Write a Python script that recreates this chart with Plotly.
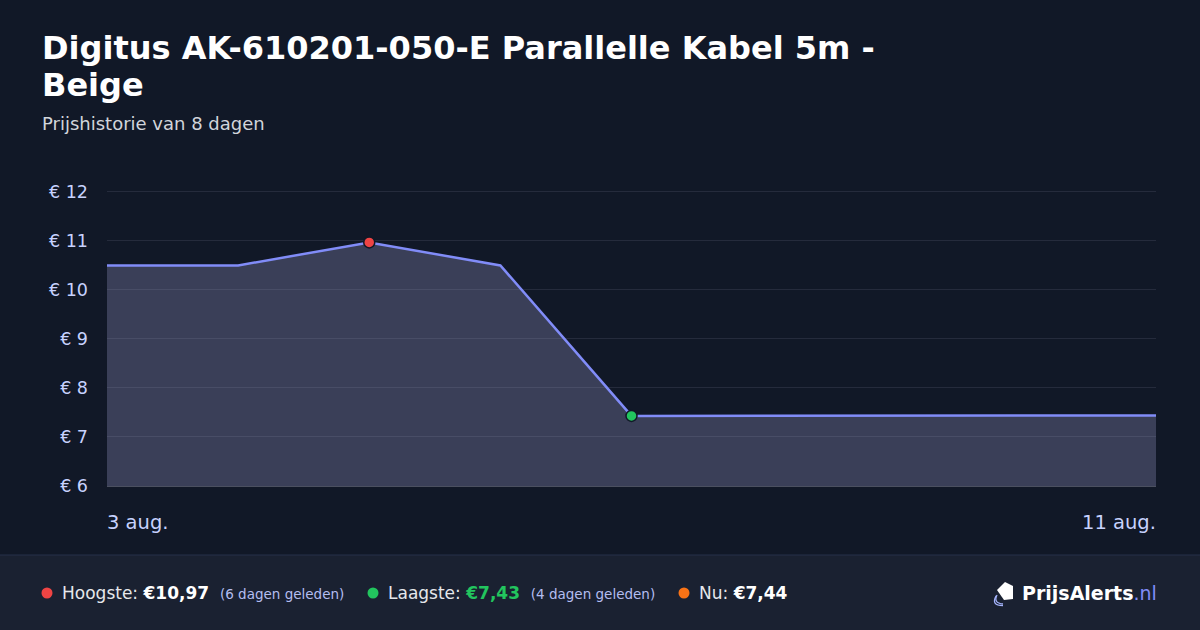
import plotly.graph_objects as go

# prijsdata
dates = ["2025-08-03", "2025-08-04", "2025-08-05", "2025-08-06", "2025-08-07",
         "2025-08-08", "2025-08-09", "2025-08-10", "2025-08-11"]
prices = [10.50, 10.50, 10.97, 10.50, 7.43, 7.43, 7.44, 7.44, 7.44]
y_ticks = [6, 7, 8, 9, 10, 11, 12]
y_labels = ["€ " + str(v) for v in y_ticks]
x_labels = ["3 aug.", "11 aug."]

title_lines = ["Digitus AK-610201-050-E Parallelle Kabel 5m -", "Beige"]
subtitle = "Prijshistorie van 8 dagen"

hi = prices.index(max(prices))
lo = prices.index(min(prices))

BG = "#111827"
FOOT = "#1a2131"

# plot area in pixels (a bit of headroom so the 12 gridline is drawn)
L, R, T, B = 107, 1156, 190, 486
W, H = R - L, B - T

def px(x):
    return (x - L) / W

def py(y):
    return (B - y) / H

fig = go.Figure()
fig.add_trace(go.Scatter(x=dates, y=prices, mode="lines",
                         line=dict(color="#818cf8", width=2.5),
                         fill="tozeroy", fillcolor="rgba(154,154,202,0.3)",
                         hoverinfo="skip"))
fig.add_trace(go.Scatter(x=[dates[hi]], y=[prices[hi]], mode="markers",
                         marker=dict(color="#ef4444", size=11, line=dict(color=BG, width=1.5))))
fig.add_trace(go.Scatter(x=[dates[lo]], y=[prices[lo]], mode="markers",
                         marker=dict(color="#22c55e", size=11, line=dict(color=BG, width=1.5))))

shapes = []
# footer
shapes.append(dict(type="rect", xref="paper", yref="paper", x0=px(0), x1=px(1200),
                   y0=py(630), y1=py(555), fillcolor=FOOT, line_width=0, layer="below"))
shapes.append(dict(type="line", xref="paper", yref="paper", x0=px(0), x1=px(1200),
                   y0=py(555), y1=py(555), line=dict(color="#26304a", width=1)))
# footer dots
for cx, col in [(47, "#ef4444"), (373, "#22c55e"), (684, "#f97316")]:
    shapes.append(dict(type="circle", xref="paper", yref="paper",
                       x0=px(cx - 5.5), x1=px(cx + 5.5), y0=py(598.5), y1=py(587.5),
                       fillcolor=col, line_width=0))
# logo icon (tag)
shapes.append(dict(type="path", xref="paper", yref="paper",
                   path="M %f %f L %f %f L %f %f L %f %f L %f %f Z" % (
                       px(997), py(590), px(1005), py(582), px(1013), py(586),
                       px(1013), py(599), px(1004), py(600)),
                   fillcolor="white", line_width=0))
for r in (5, 9):
    shapes.append(dict(type="path", xref="paper", yref="paper",
                       path="M %f %f Q %f %f %f %f" % (px(998 - r * 0.2), py(594 + r * 0.2),
                                                        px(996 - r * 0.6), py(600 + r * 0.6),
                                                        px(1003), py(602 + r * 0.4)),
                       line=dict(color="#a5b4fc", width=1.3)))

ann = []
for i, line in enumerate(title_lines):
    ann.append(dict(text="<b>" + line + "</b>", x=px(40), y=py(48 + 37 * i), xref="paper", yref="paper",
                    xanchor="left", yanchor="middle", showarrow=False,
                    font=dict(size=32, color="white")))
ann.append(dict(text=subtitle, x=px(40), y=py(124), xref="paper", yref="paper",
                xanchor="left", yanchor="middle", showarrow=False,
                font=dict(size=18, color="#d1d5db")))
ann.append(dict(text=x_labels[0], x=dates[0], y=py(522), xref="x", yref="paper",
                xanchor="left", yanchor="middle", showarrow=False, xshift=-2,
                font=dict(size=19.5, color="#c7d2fe")))
ann.append(dict(text=x_labels[1], x=dates[-1], y=py(522), xref="x", yref="paper",
                xanchor="right", yanchor="middle", showarrow=False, xshift=2,
                font=dict(size=19.5, color="#c7d2fe")))

small = "<span style='font-size:13.5px;color:#b4bdf0'>"
ann.append(dict(text="Hoogste: <b style='color:white'>€10,97</b>  " + small + "(6 dagen geleden)</span>",
                x=px(60), y=py(593), xref="paper", yref="paper", xanchor="left", yanchor="middle",
                showarrow=False, font=dict(size=17, color="#e5e7eb")))
ann.append(dict(text="Laagste: <b style='color:#22c55e'>€7,43</b>  " + small + "(4 dagen geleden)</span>",
                x=px(386), y=py(593), xref="paper", yref="paper", xanchor="left", yanchor="middle",
                showarrow=False, font=dict(size=17, color="#e5e7eb")))
ann.append(dict(text="Nu: <b style='color:white'>€7,44</b>",
                x=px(697), y=py(593), xref="paper", yref="paper", xanchor="left", yanchor="middle",
                showarrow=False, font=dict(size=17, color="#e5e7eb")))
ann.append(dict(text="<b>PrijsAlerts</b><span style='color:#818cf8'>.nl</span>",
                x=px(1159), y=py(593), xref="paper", yref="paper", xanchor="right", yanchor="middle",
                showarrow=False, font=dict(size=19, color="white")))

fig.update_layout(
    width=1200, height=630,
    margin=dict(l=L, r=1200 - R, t=T, b=630 - B),
    paper_bgcolor=BG, plot_bgcolor=BG,
    showlegend=False,
    font=dict(family="DejaVu Sans"),
    shapes=shapes, annotations=ann,
)
fig.update_xaxes(range=[dates[0], dates[-1]], showgrid=False, showticklabels=False,
                 zeroline=False, showline=True, linecolor="#4b5060", linewidth=1)
fig.update_yaxes(range=[6, 12.04], tickvals=y_ticks, ticktext=y_labels, gridcolor="#252b3c",
                 zeroline=False, ticklabelstandoff=18,
                 tickfont=dict(size=17.5, color="#c7d2fe"))

fig.write_html("out.html", config={"displayModeBar": False},
               post_script="document.body.style.margin='0';")
